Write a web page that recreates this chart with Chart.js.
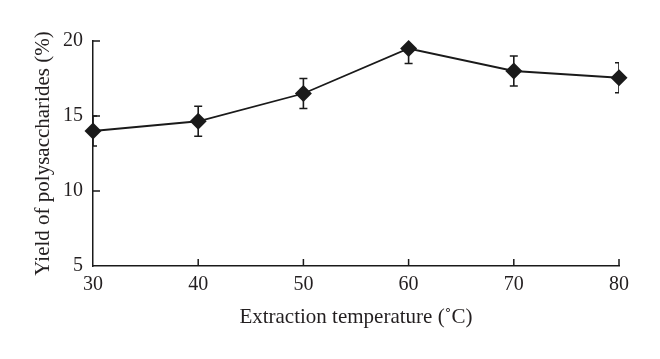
<!DOCTYPE html>
<html><head><meta charset="utf-8">
<script src="https://cdn.jsdelivr.net/npm/chart.js@4.4.1/dist/chart.umd.min.js"></script>
<style>html,body{margin:0;padding:0;background:#fff}#wrap{width:660px;height:359px}</style>
</head><body><div id="wrap"><canvas id="c" width="660" height="359"></canvas></div>
<script>
const temperatures = [30, 40, 50, 60, 70, 80];
const yieldValues = [14.0, 14.65, 16.5, 19.5, 18.0, 17.55];
const errorUp = [1.0, 1.0, 1.0, 0, 1.0, 1.0];
const errorDown = [1.0, 1.0, 1.0, 1.0, 1.0, 1.0];
const xTicks = [30, 40, 50, 60, 70, 80];
const yTicks = [5, 10, 15, 20];

const ink = '#1a1a1a';
const fontFamily = '"Liberation Serif", "DejaVu Serif", serif';

const errorBars = {
  id: 'errorBars',
  beforeDatasetsDraw(chart) {
    const {ctx, chartArea, scales: {x, y}} = chart;
    ctx.save();
    ctx.beginPath();
    ctx.rect(chartArea.left, chartArea.top - 20, chartArea.right - chartArea.left, chartArea.bottom - chartArea.top + 20);
    ctx.clip();
    ctx.strokeStyle = ink;
    ctx.lineWidth = 1.6;
    temperatures.forEach((t, i) => {
      const px = x.getPixelForValue(t);
      const top = y.getPixelForValue(yieldValues[i] + errorUp[i]);
      const bot = y.getPixelForValue(yieldValues[i] - errorDown[i]);
      const mid = y.getPixelForValue(yieldValues[i]);
      ctx.beginPath();
      if (errorUp[i] > 0) {
        ctx.moveTo(px, mid); ctx.lineTo(px, top);
        ctx.moveTo(px - 4, top); ctx.lineTo(px + 4, top);
      }
      if (errorDown[i] > 0) {
        ctx.moveTo(px, mid); ctx.lineTo(px, bot);
        ctx.moveTo(px - 4, bot); ctx.lineTo(px + 4, bot);
      }
      ctx.stroke();
    });
    ctx.restore();
  }
};

const inwardTicks = {
  id: 'inwardTicks',
  afterDraw(chart) {
    const {ctx, chartArea, scales: {x, y}} = chart;
    ctx.save();
    ctx.strokeStyle = ink;
    ctx.lineWidth = 1.5;
    ctx.beginPath();
    xTicks.forEach(t => {
      if (t === xTicks[0]) return;
      const px = x.getPixelForValue(t);
      ctx.moveTo(px, chartArea.bottom); ctx.lineTo(px, chartArea.bottom - 7);
    });
    yTicks.forEach(t => {
      if (t === yTicks[0]) return;
      const py = y.getPixelForValue(t);
      ctx.moveTo(chartArea.left, py); ctx.lineTo(chartArea.left + 7, py);
    });
    ctx.stroke();
    ctx.restore();
  }
};

new Chart(document.getElementById('c'), {
  type: 'line',
  data: {
    datasets: [{
      data: temperatures.map((t, i) => ({x: t, y: yieldValues[i]})),
      borderColor: ink,
      backgroundColor: ink,
      borderWidth: 1.8,
      pointStyle: 'rectRot',
      pointRadius: 8.5,
      pointHoverRadius: 8.5,
      pointBackgroundColor: ink,
      pointBorderColor: ink,
      pointBorderWidth: 0,
      tension: 0,
      clip: false
    }]
  },
  options: {
    responsive: false,
    animation: false,
    events: [],
    layout: {padding: {top: 41, right: 41, left: 0, bottom: 0}},
    plugins: {legend: {display: false}, tooltip: {enabled: false}},
    scales: {
      x: {
        type: 'linear', min: 30, max: 80,
        afterBuildTicks: s => { s.ticks = xTicks.map(v => ({value: v})); },
        afterFit: s => { s.height = 93; },
        grid: {display: true, drawOnChartArea: false, drawTicks: false},
        border: {color: ink, width: 1.5},
        ticks: {color: '#231f20', padding: 7, font: {family: fontFamily, size: 20}, maxRotation: 0},
        title: {display: true, text: 'Extraction temperature (\u02DAC)', color: '#231f20',
                font: {family: fontFamily, size: 21}, padding: {top: 0, bottom: 29}}
      },
      y: {
        type: 'linear', min: 5, max: 20,
        afterBuildTicks: s => { s.ticks = yTicks.map(v => ({value: v})); },
        afterFit: s => { s.width = 93; },
        grid: {display: true, drawOnChartArea: false, drawTicks: false},
        border: {color: ink, width: 1.5},
        ticks: {color: '#231f20', padding: 10, font: {family: fontFamily, size: 20}},
        title: {display: true, text: 'Yield of polysaccharides (%)', color: '#231f20',
                font: {family: fontFamily, size: 21}, padding: {top: 31, bottom: 0}}
      }
    }
  },
  plugins: [errorBars, inwardTicks]
});
</script></body></html>
